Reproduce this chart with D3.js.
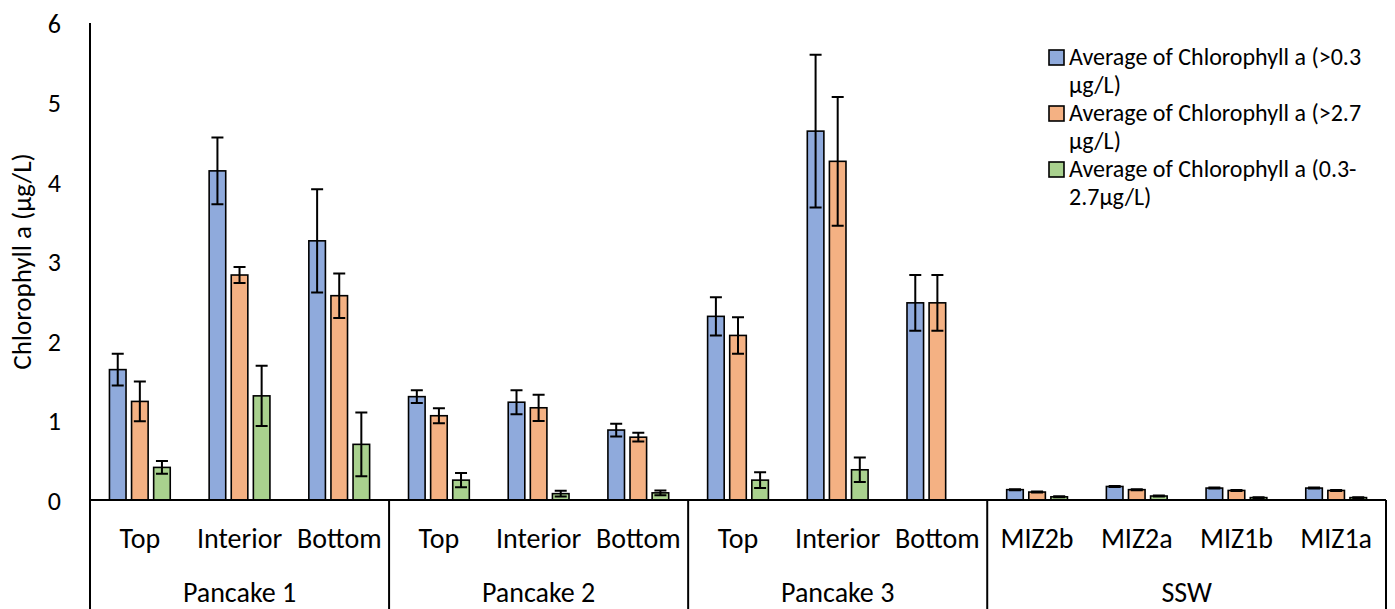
<!DOCTYPE html>
<html>
<head>
<meta charset="utf-8">
<script src="https://cdn.jsdelivr.net/npm/d3@7"></script>
<style>
  html, body { margin: 0; padding: 0; background: #fff; }
  svg text { font-family: Carlito, Calibri, Lato, "Liberation Sans", sans-serif; fill: #000; }
</style>
</head>
<body>
<svg id="chart" width="1395" height="609"></svg>
<script>
// Sample positions (inner level) and their site groups (outer level)
const categories = ["Top", "Interior", "Bottom", "Top", "Interior", "Bottom", "Top", "Interior", "Bottom", "MIZ2b", "MIZ2a", "MIZ1b", "MIZ1a"];
const groups = ["Pancake 1", "Pancake 1", "Pancake 1", "Pancake 2", "Pancake 2", "Pancake 2", "Pancake 3", "Pancake 3", "Pancake 3", "SSW", "SSW", "SSW", "SSW"];

const seriesNames = [
  "Average of Chlorophyll a (>0.3 µg/L)",
  "Average of Chlorophyll a (>2.7 µg/L)",
  "Average of Chlorophyll a (0.3-2.7µg/L)"
];
const legendLines = [
  ["Average of Chlorophyll a (>0.3", "µg/L)"],
  ["Average of Chlorophyll a (>2.7", "µg/L)"],
  ["Average of Chlorophyll a (0.3-", "2.7µg/L)"]
];
const seriesColors = ["#8FAADC", "#F4B183", "#A9D18E"];

// Mean chlorophyll a (µg/L) and error (±) per sample
const chlAbove03 = [1.64, 4.14, 3.26, 1.30, 1.23, 0.88, 2.31, 4.64, 2.48, 0.13, 0.17, 0.15, 0.15];
const errAbove03 = [0.20, 0.42, 0.65, 0.08, 0.15, 0.08, 0.24, 0.96, 0.35, 0.006, 0.006, 0.006, 0.006];
const chlAbove27 = [1.24, 2.83, 2.57, 1.06, 1.16, 0.79, 2.07, 4.26, 2.48, 0.10, 0.13, 0.12, 0.12];
const errAbove27 = [0.25, 0.10, 0.28, 0.095, 0.165, 0.055, 0.23, 0.81, 0.35, 0.006, 0.006, 0.006, 0.006];
const chl03to27 = [0.41, 1.31, 0.70, 0.25, 0.08, 0.09, 0.25, 0.38, null, 0.04, 0.05, 0.03, 0.03];
const err03to27 = [0.08, 0.38, 0.40, 0.09, 0.035, 0.03, 0.10, 0.155, null, 0.006, 0.006, 0.006, 0.006];

const yTicks = [0, 1, 2, 3, 4, 5, 6];
const yTitle = "Chlorophyll a (µg/L)";

const seriesValues = [chlAbove03, chlAbove27, chl03to27];
const seriesErrors = [errAbove03, errAbove27, err03to27];

const svg = d3.select("#chart");
const plotLeft = 90, plotRight = 1386, plotTop = 23, plotBottom = 500;

const y = d3.scaleLinear().domain([0, 6]).range([plotBottom, plotTop]);
const x0 = d3.scaleBand().domain(d3.range(categories.length)).range([plotLeft, plotRight]).paddingInner(0).paddingOuter(0);
const x1 = d3.scaleBand().domain(d3.range(seriesNames.length)).range([0, x0.bandwidth()])
  .paddingInner(0.25).paddingOuter(0.88);

// Flattened records for bars and error bars
const records = [];
categories.forEach((c, i) => {
  seriesValues.forEach((vals, s) => {
    if (vals[i] != null) records.push({ i, s, v: vals[i], e: seriesErrors[s][i] });
  });
});

// Bars
svg.append("g").selectAll("rect").data(records).join("rect")
  .attr("x", d => x0(d.i) + x1(d.s))
  .attr("y", d => y(d.v))
  .attr("width", x1.bandwidth())
  .attr("height", d => y(0) - y(d.v))
  .attr("fill", d => seriesColors[d.s])
  .attr("stroke", "#000")
  .attr("stroke-width", 1.6);

// Error bars
const eb = svg.append("g").attr("stroke", "#000").attr("stroke-width", 2).attr("fill", "none");
const cap = 6;
records.forEach(d => {
  const cx = x0(d.i) + x1(d.s) + x1.bandwidth() / 2;
  const y1 = y(d.v + d.e), y2 = y(Math.max(0, d.v - d.e));
  eb.append("path").attr("d", `M${cx},${y1}V${y2}M${cx - cap},${y1}H${cx + cap}M${cx - cap},${y2}H${cx + cap}`);
});

// Y axis: line with labels only
const yAxis = d3.axisLeft(y).tickValues(yTicks).tickSize(0).tickPadding(29).tickFormat(d3.format("d"));
const gy = svg.append("g").attr("transform", `translate(${plotLeft},0)`).call(yAxis);
gy.select(".domain").remove();
gy.selectAll("text").style("font-size", "26px").attr("dy", "0.36em");
svg.append("line").attr("x1", plotLeft).attr("x2", plotLeft).attr("y1", plotTop).attr("y2", 609)
  .attr("stroke", "#000").attr("stroke-width", 2);

// Y title
svg.append("text")
  .attr("transform", `translate(31,${(plotTop + plotBottom) / 2}) rotate(-90)`)
  .attr("text-anchor", "middle")
  .style("font-size", "27px")
  .text(yTitle);

// X axis baseline
svg.append("line").attr("x1", plotLeft).attr("x2", plotRight).attr("y1", y(0)).attr("y2", y(0))
  .attr("stroke", "#000").attr("stroke-width", 2);

// Inner category labels
const xAxis = d3.axisBottom(x0).tickSize(0).tickPadding(0).tickFormat(i => categories[i]);
const gx = svg.append("g").attr("transform", `translate(0,${y(0)})`).call(xAxis);
gx.select(".domain").remove();
gx.selectAll("text").attr("y", 38).attr("dy", "0.35em").style("font-size", "28px");

// Outer group labels and separators
const groupNames = Array.from(new Set(groups));
const groupSpans = groupNames.map(g => {
  const idx = groups.map((v, i) => v === g ? i : -1).filter(i => i >= 0);
  return { name: g, x0: x0(idx[0]), x1: x0(idx[idx.length - 1]) + x0.bandwidth() };
});
const sep = svg.append("g").attr("stroke", "#000").attr("stroke-width", 2);
groupSpans.forEach(gs => {
  sep.append("line").attr("x1", gs.x1).attr("x2", gs.x1).attr("y1", y(0)).attr("y2", 609);
});
svg.append("g").selectAll("text").data(groupSpans).join("text")
  .attr("x", d => (d.x0 + d.x1) / 2)
  .attr("y", 592)
  .attr("dy", "0.35em")
  .attr("text-anchor", "middle")
  .style("font-size", "28px")
  .text(d => d.name);

// Legend
const legend = svg.append("g").attr("transform", "translate(1049,57)");
legendLines.forEach((lines, s) => {
  const gy0 = s * 56;
  legend.append("rect").attr("x", 0).attr("y", gy0 - 7).attr("width", 15).attr("height", 15)
    .attr("fill", seriesColors[s]).attr("stroke", "#000").attr("stroke-width", 1.6);
  lines.forEach((t, k) => {
    legend.append("text").attr("x", 20).attr("y", gy0 + k * 27.5).attr("dy", "0.35em")
      .style("font-size", "24px").text(t);
  });
});
</script>
</body>
</html>
